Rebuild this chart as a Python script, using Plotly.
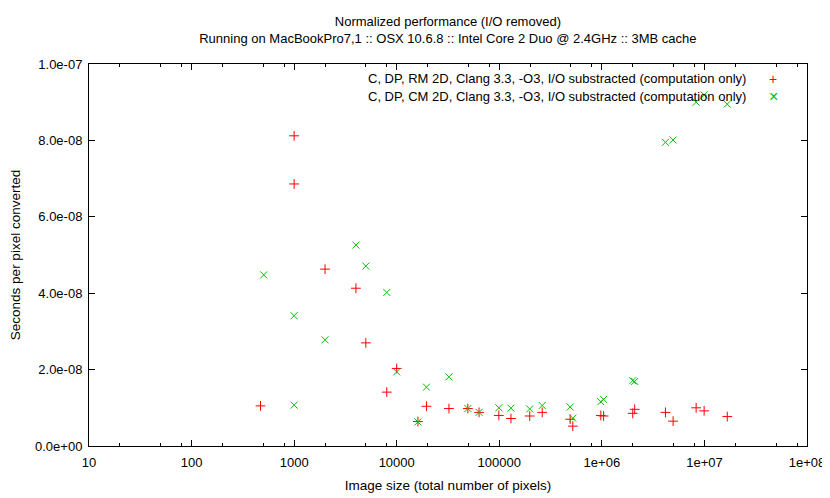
import plotly.graph_objects as go

# --- data ---
rm_pixels = [470, 1000, 1000, 2000, 4000, 5000, 8000, 10000, 16100, 19500,
             32300, 49400, 63500, 99000, 130000, 198000, 262000, 491000, 521000,
             977000, 1040000, 2000000, 2090000, 4170000, 4950000, 8300000,
             9930000, 16700000]
rm_seconds = [10.5e-9, 81.2e-9, 68.6e-9, 46.3e-9, 41.3e-9, 27.0e-9, 14.1e-9,
              20.3e-9, 6.4e-9, 10.4e-9, 9.8e-9, 9.8e-9, 8.8e-9, 8.0e-9, 7.2e-9,
              7.85e-9, 8.8e-9, 7.0e-9, 5.2e-9, 8.0e-9, 7.85e-9, 8.55e-9, 9.6e-9,
              8.8e-9, 6.5e-9, 10.0e-9, 9.2e-9, 7.7e-9]

cm_pixels = [505, 1000, 1000, 2000, 4000, 5000, 8000, 10000, 16100, 19500,
             32300, 49400, 63500, 99000, 130000, 198000, 262000, 491000, 521000,
             977000, 1040000, 2000000, 2090000, 4170000, 4950000, 8300000,
             9930000, 16700000]
cm_seconds = [44.8e-9, 34.1e-9, 10.7e-9, 27.8e-9, 52.6e-9, 47.1e-9, 40.2e-9,
              19.4e-9, 6.3e-9, 15.4e-9, 18.1e-9, 9.8e-9, 8.8e-9, 10.0e-9, 9.9e-9,
              9.7e-9, 10.6e-9, 10.2e-9, 7.3e-9, 11.6e-9, 12.2e-9, 17.1e-9, 16.9e-9,
              79.5e-9, 80.1e-9, 90.0e-9, 91.9e-9, 89.5e-9]

x_tickvals = [10, 100, 1000, 10000, 100000, 1e6, 1e7, 1e8]
x_ticktext = ["10", "100", "1000", "10000", "100000", "1e+06", "1e+07", "1e+08"]
x_minorvals = [m * 10 ** d for d in range(1, 8) for m in (2, 5, 8)]
y_tickvals = [0, 2e-8, 4e-8, 6e-8, 8e-8, 1e-7]
y_ticktext = ["0.0e+00", "2.0e-08", "4.0e-08", "6.0e-08", "8.0e-08", "1.0e-07"]

rm_label = "C, DP, RM 2D, Clang 3.3, -O3, I/O substracted (computation only)"
cm_label = "C, DP, CM 2D, Clang 3.3, -O3, I/O substracted (computation only)"

RED = "#ff0000"
GREEN = "#00c000"
FONT = "Liberation Sans"

fig = go.Figure()
fig.add_trace(go.Scatter(x=rm_pixels, y=rm_seconds, mode="markers", name=rm_label,
                         marker=dict(symbol="cross-thin", size=7,
                                     line=dict(color=RED, width=1))))
fig.add_trace(go.Scatter(x=cm_pixels, y=cm_seconds, mode="markers", name=cm_label,
                         marker=dict(symbol="x-thin", size=7,
                                     line=dict(color=GREEN, width=1))))

axis_common = dict(showline=True, linecolor="black", linewidth=1, mirror="allticks",
                   ticks="inside", ticklen=6, tickcolor="black", showgrid=False,
                   zeroline=False, automargin=False,
                   tickfont=dict(size=13, color="black"))

fig.update_xaxes(type="log", range=[1, 8], tickvals=x_tickvals, ticktext=x_ticktext,
                 ticklabelstandoff=4,
                 minor=dict(tickvals=x_minorvals, ticks="inside", ticklen=3,
                            tickcolor="black", showgrid=False),
                 title=dict(text="Image size (total number of pixels)",
                            font=dict(size=13.5), standoff=11),
                 **axis_common)
fig.update_yaxes(range=[0, 1e-7], tickvals=y_tickvals, ticktext=y_ticktext,
                 ticklabelstandoff=3,
                 title=dict(text="Seconds per pixel converted", font=dict(size=13.5),
                            standoff=12),
                 **axis_common)

# gnuplot-style key: text right-aligned, sample glyph to its right
fig.add_annotation(x=0.918, y=0.961, xref="paper", yref="paper", xanchor="right",
                   yanchor="middle", text=rm_label, showarrow=False,
                   font=dict(size=13, color="black"))
fig.add_annotation(x=0.918, y=0.916, xref="paper", yref="paper", xanchor="right",
                   yanchor="middle", text=cm_label, showarrow=False,
                   font=dict(size=13, color="black"))
fig.add_annotation(x=0.953, y=0.961, xref="paper", yref="paper", xanchor="center",
                   yanchor="middle", text="+", showarrow=False,
                   font=dict(size=14, color=RED))
fig.add_annotation(x=0.953, y=0.916, xref="paper", yref="paper", xanchor="center",
                   yanchor="middle", text="×", showarrow=False,
                   font=dict(size=16, color=GREEN))

# the page body adds an 8px offset, so margins are shifted to compensate
fig.update_layout(
    width=830, height=498,
    template="simple_white",
    plot_bgcolor="white", paper_bgcolor="white",
    font=dict(family=FONT, size=13, color="black"),
    title=dict(text="Normalized performance (I/O removed)<br>"
                    "Running on MacBookPro7,1 :: OSX 10.6.8 :: Intel Core 2 Duo @ 2.4GHz :: 3MB cache",
               x=0.530, xanchor="center", y=0.963, yanchor="top",
               font=dict(size=13)),
    showlegend=False,
    margin=dict(l=81, r=31, t=56, b=60),
)

fig.write_html("out.html")
